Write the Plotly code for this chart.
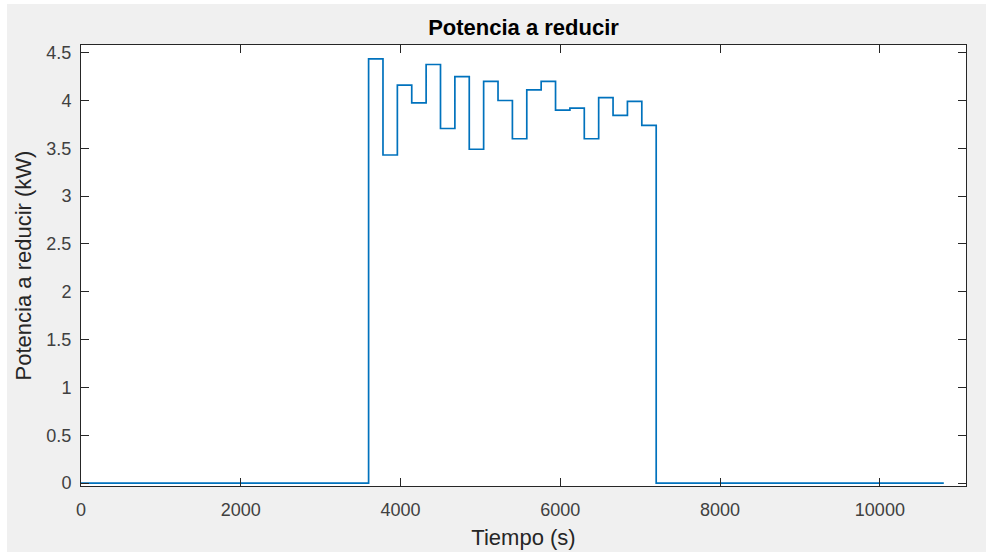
import plotly.graph_objects as go

# Step starts (s) and values (kW)
tiempo = [0, 3600, 3780, 3960, 4140, 4320, 4500, 4680, 4860, 5040, 5220,
          5400, 5580, 5760, 5940, 6120, 6300, 6480, 6660, 6840, 7020, 7200, 10800]
potencia = [0, 4.435, 3.43, 4.16, 3.975, 4.376, 3.707, 4.25, 3.49, 4.20, 4.00,
            3.60, 4.11, 4.20, 3.90, 3.92, 3.60, 4.03, 3.845, 3.99, 3.74, 0, 0]

x_ticks = [0, 2000, 4000, 6000, 8000, 10000]
y_ticks = [0, 0.5, 1, 1.5, 2, 2.5, 3, 3.5, 4, 4.5]

W, H = 986, 552
L, R, T, B = 81, 20, 45, 66
pw, ph = W - L - R, H - T - B

fig = go.Figure()
fig.add_trace(go.Scatter(
    x=tiempo, y=potencia, mode="lines", line_shape="hv",
    line=dict(color="#0072BD", width=1.7), showlegend=False, hoverinfo="skip"))

font = "Liberation Sans, Arial, Helvetica, sans-serif"
axcol = "#262626"

fig.update_layout(
    width=W, height=H,
    margin=dict(l=L, r=R, t=T, b=B, autoexpand=False),
    paper_bgcolor="#f0f0f0", plot_bgcolor="white",
    font=dict(family=font, color=axcol, size=18),
    title=dict(text="<b>Potencia a reducir</b>", x=(L + pw / 2) / W, xanchor="center",
               y=1 - 27 / H, yanchor="middle", yref="container",
               font=dict(size=22, color="#000000", family=font)),
    xaxis=dict(range=[0, 11078], tickvals=x_ticks, ticktext=[str(v) for v in x_ticks],
               ticks="inside", ticklen=8, tickwidth=1, tickcolor=axcol,
               showline=True, linecolor=axcol, linewidth=1, mirror="ticks",
               showgrid=False, zeroline=False, ticklabelstandoff=7, automargin=False,
               tickfont=dict(size=18, color="#404040"),
               title=dict(text="Tiempo (s)", font=dict(size=22, color="#262626"), standoff=11)),
    yaxis=dict(range=[-0.03, 4.58], tickvals=y_ticks, ticktext=[f"{v:g}" for v in y_ticks],
               ticks="inside", ticklen=8, tickwidth=1, tickcolor=axcol,
               showline=True, linecolor=axcol, linewidth=1, mirror="ticks",
               showgrid=False, zeroline=False, ticklabelstandoff=5, automargin=False,
               tickfont=dict(size=18, color="#404040"),
               title=dict(text="Potencia a reducir (kW)", font=dict(size=22, color="#262626"), standoff=8)),
)

# white strips at top and left edges of the figure
fig.add_shape(type="rect", xref="paper", yref="paper", layer="below",
              x0=-L / pw, x1=(7 - L) / pw, y0=-B / ph, y1=1 + T / ph,
              fillcolor="white", line_width=0)
fig.add_shape(type="rect", xref="paper", yref="paper", layer="below",
              x0=-L / pw, x1=1 + R / pw, y0=1 + (T - 4) / ph, y1=1 + T / ph,
              fillcolor="white", line_width=0)

fig.write_html("out.html")
